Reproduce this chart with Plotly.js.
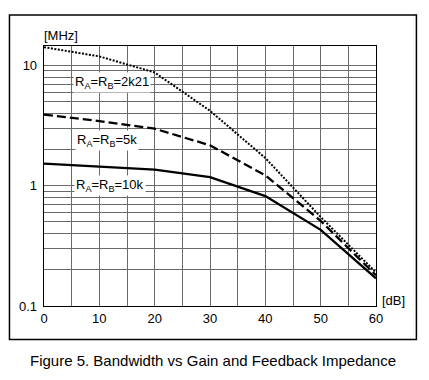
<!DOCTYPE html>
<html>
<head>
<meta charset="utf-8">
<script src="https://cdn.plot.ly/plotly-3.0.1.min.js"></script>
<style>
  html, body { margin: 0; padding: 0; background: #fff; }
  #chart { width: 429px; height: 380px; }
</style>
</head>
<body>
<div id="chart"></div>
<script>
// Data
const gainDb = [0, 10, 20, 30, 40, 50, 60];
const bw2k21 = [14.2, 11.9, 8.75, 4.2, 1.7, 0.55, 0.19];
const bw5k   = [3.9, 3.45, 2.98, 2.17, 1.22, 0.51, 0.18];
const bw10k  = [1.53, 1.45, 1.36, 1.18, 0.82, 0.43, 0.17];

const seriesNames = ["R<sub>A</sub>=R<sub>B</sub>=2k21", "R<sub>A</sub>=R<sub>B</sub>=5k", "R<sub>A</sub>=R<sub>B</sub>=10k"];

const xTickVals = [0, 5, 10, 15, 20, 25, 30, 35, 40, 45, 50, 55, 60];
const xTickText = ["0", "", "10", "", "20", "", "30", "", "40", "", "50", "", "60"];
const yTickVals = [0.1,0.2,0.3,0.4,0.5,0.6,0.7,0.8,0.9,1,2,3,4,5,6,7,8,9,10];
const yTickText = ["0.1","","","","","","","","","1","","","","","","","","","10"];

const FONT = "Liberation Sans, Arial, sans-serif";

const traces = [
  { x: gainDb, y: bw2k21, mode: "lines", name: seriesNames[0],
    line: { color: "#000", width: 2, dash: "2px,1.5px" } },
  { x: gainDb, y: bw5k, mode: "lines", name: seriesNames[1],
    line: { color: "#000", width: 2.3, dash: "9px,4px" } },
  { x: gainDb, y: bw10k, mode: "lines", name: seriesNames[2],
    line: { color: "#000", width: 2.3 } }
];

const gridColor = "#6a6a6a";

const layout = {
  width: 429, height: 380,
  margin: { l: 44, r: 53, t: 46, b: 74 },
  paper_bgcolor: "#fff", plot_bgcolor: "#fff",
  showlegend: false,
  font: { family: FONT, size: 13, color: "#000" },
  xaxis: {
    range: [0, 60], tickvals: xTickVals, ticktext: xTickText,
    showgrid: true, gridcolor: gridColor, gridwidth: 1,
    zeroline: false, showline: true, linecolor: "#000", linewidth: 1.3, mirror: true,
    ticks: "", ticklabelstandoff: 0,
    tickfont: { family: FONT, size: 13, color: "#000" }
  },
  yaxis: {
    type: "log", range: [-1, 1.162], tickvals: yTickVals, ticktext: yTickText,
    showgrid: true, gridcolor: gridColor, gridwidth: 1,
    zeroline: false, showline: true, linecolor: "#000", linewidth: 1.3, mirror: true,
    ticks: "", ticklabelstandoff: 3,
    tickfont: { family: FONT, size: 13, color: "#000" }
  },
  shapes: [
    { type: "rect", xref: "paper", yref: "paper",
      x0: -0.104, x1: 1.1217, y0: -0.1286, y1: 1.119,
      line: { color: "#000", width: 1.5 }, fillcolor: "rgba(0,0,0,0)", layer: "below" }
  ],
  annotations: [
    { text: seriesNames[0], xref: "x", yref: "y", x: 12.3, y: Math.log10(7.2),
      showarrow: false, bgcolor: "#fff", borderpad: 1,
      font: { family: FONT, size: 13, color: "#000" } },
    { text: seriesNames[1], xref: "x", yref: "y", x: 11.4, y: 0.378,
      showarrow: false, bgcolor: "#fff", borderpad: 1,
      font: { family: FONT, size: 13, color: "#000" } },
    { text: seriesNames[2], xref: "x", yref: "y", x: 11.9, y: 0.0,
      showarrow: false, bgcolor: "#fff", borderpad: 1,
      font: { family: FONT, size: 13, color: "#000" } },
    { text: "[MHz]", xref: "paper", yref: "paper", x: -0.005, y: 1.04,
      xanchor: "left", yanchor: "middle", showarrow: false,
      font: { family: FONT, size: 13, color: "#000" } },
    { text: "[dB]", xref: "paper", yref: "paper", x: 1.012, y: 0.02,
      xanchor: "left", yanchor: "middle", showarrow: false,
      font: { family: FONT, size: 13, color: "#000" } },
    { text: "Figure 5. Bandwidth vs Gain and Feedback Impedance", xref: "paper", yref: "paper",
      x: 0.509, y: -0.21, xanchor: "center", yanchor: "middle", showarrow: false,
      font: { family: FONT, size: 15, color: "#000" } }
  ]
};

Plotly.newPlot("chart", traces, layout, { staticPlot: true, displayModeBar: false });
</script>
</body>
</html>
